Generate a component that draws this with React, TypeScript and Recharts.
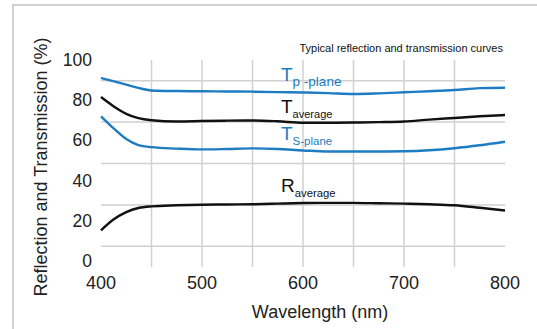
import { LineChart, Line, XAxis, YAxis, CartesianGrid } from "recharts";

const wavelengths = [400, 412, 425, 437, 450, 475, 500, 525, 550, 575, 600, 625, 650, 675, 700, 725, 750, 775, 800];
const tpPlane = [91.3, 89.8, 88.1, 86.5, 85.3, 85.0, 84.9, 84.8, 84.7, 84.5, 84.3, 84.0, 83.6, 83.9, 84.4, 84.9, 85.5, 86.4, 86.6];
const tAverage = [82.1, 77.8, 74.0, 71.9, 70.9, 70.3, 70.5, 70.7, 70.8, 70.4, 69.7, 69.7, 69.8, 70.0, 70.3, 71.2, 72.0, 72.8, 73.4];
const tsPlane = [72.8, 67.2, 61.8, 58.9, 57.9, 57.2, 56.8, 57.0, 57.3, 57.0, 56.3, 55.8, 55.8, 55.8, 55.9, 56.4, 57.4, 58.8, 60.5];
const rAverage = [17.7, 22.8, 26.5, 28.5, 29.3, 29.8, 30.1, 30.2, 30.3, 30.6, 30.9, 31.0, 31.0, 30.8, 30.6, 30.3, 29.8, 28.6, 27.3];

const xTicks = [400, 500, 600, 700, 800];
const yTicks = [0, 20, 40, 60, 80, 100];
const gridX = [450, 500, 550, 600, 650, 700, 750];
const gridY = [10, 20, 30, 40, 50, 60, 70, 80, 90];

const BLUE = "#1d7cc2";
const BLACK = "#111";
const FONT = "'Liberation Sans', Arial, sans-serif";

const data = wavelengths.map((nm, i) => ({
  nm,
  tp: tpPlane[i],
  tavg: tAverage[i],
  ts: tsPlane[i],
  ravg: rAverage[i],
}));

// the y labels in the original creep upward toward the bottom of the axis
function YTick(props: any) {
  const { x, y, payload } = props;
  const lift = (100 - payload.value) * 0.065;
  return (
    <text x={x} y={y - lift} dy="0.355em" textAnchor="end" fontSize={17.5} fill="#222" fontFamily={FONT}>
      {payload.value}
    </text>
  );
}

function CurveLabel({ x, baseline, main, sub, subSize, color }: {
  x: number; baseline: number; main: string; sub: string; subSize: number; color: string;
}) {
  return (
    <div
      style={{
        position: "absolute",
        left: x,
        top: baseline - 16,
        fontSize: 19,
        lineHeight: "19px",
        color,
        whiteSpace: "nowrap",
      }}
    >
      <span>{main}</span>
      <span style={{ fontSize: subSize, position: "relative", top: 5 }}>{sub}</span>
    </div>
  );
}

export default function App() {
  return (
    <div
      style={{
        position: "absolute",
        left: 0,
        top: 0,
        width: 537,
        height: 329,
        overflow: "hidden",
        background: "#fff",
        fontFamily: FONT,
      }}
    >
      <div
        style={{
          position: "absolute",
          left: 12,
          top: 4,
          width: 560,
          height: 360,
          borderLeft: "2px solid #d2d2d2",
          borderTop: "2px solid #d2d2d2",
        }}
      />
      <div style={{ position: "absolute", left: 0, top: 0 }}>
        <LineChart width={537} height={329} data={data} margin={{ top: 60, right: 32, bottom: 32, left: 0 }}>
          <CartesianGrid
            stroke="#d0d0d0"
            strokeWidth={1.5}
            horizontalValues={gridY}
            verticalValues={gridX}
          />
          <XAxis
            dataKey="nm"
            type="number"
            domain={[400, 800]}
            ticks={xTicks}
            height={30}
            axisLine={false}
            tickLine={false}
            tickSize={0}
            tickMargin={9}
            tick={{ fontSize: 18, fill: "#222", fontFamily: FONT }}
          />
          <YAxis
            domain={[0, 100]}
            ticks={yTicks}
            width={101}
            axisLine={false}
            tickLine={false}
            tickSize={0}
            tickMargin={9}
            tick={<YTick />}
          />
          <Line type="monotone" dataKey="tp" stroke={BLUE} strokeWidth={2.4} dot={false} isAnimationActive={false} />
          <Line type="monotone" dataKey="tavg" stroke={BLACK} strokeWidth={2.4} dot={false} isAnimationActive={false} />
          <Line type="monotone" dataKey="ts" stroke={BLUE} strokeWidth={2.4} dot={false} isAnimationActive={false} />
          <Line type="monotone" dataKey="ravg" stroke={BLACK} strokeWidth={2.4} dot={false} isAnimationActive={false} />
        </LineChart>
      </div>

      <div
        style={{
          position: "absolute",
          right: 34,
          top: 42,
          fontSize: 11,
          lineHeight: "12px",
          color: "#111",
          whiteSpace: "nowrap",
        }}
      >
        Typical reflection and transmission curves
      </div>

      <div
        style={{
          position: "absolute",
          left: 41,
          top: 167,
          transform: "translate(-50%, -50%) rotate(-90deg)",
          fontSize: 18,
          lineHeight: "18px",
          color: "#222",
          whiteSpace: "nowrap",
        }}
      >
        Reflection and Transmission (%)
      </div>

      <div
        style={{
          position: "absolute",
          left: 320,
          top: 312,
          transform: "translate(-50%, -50%)",
          fontSize: 18,
          lineHeight: "18px",
          color: "#222",
          whiteSpace: "nowrap",
        }}
      >
        Wavelength (nm)
      </div>

      <CurveLabel x={281} baseline={81} main="T" sub="p -plane" subSize={13.5} color={BLUE} />
      <CurveLabel x={281} baseline={113} main="T" sub="average" subSize={11} color={BLACK} />
      <CurveLabel x={281} baseline={140} main="T" sub="S-plane" subSize={11.5} color={BLUE} />
      <CurveLabel x={281} baseline={192} main="R" sub="average" subSize={11.3} color={BLACK} />
    </div>
  );
}
